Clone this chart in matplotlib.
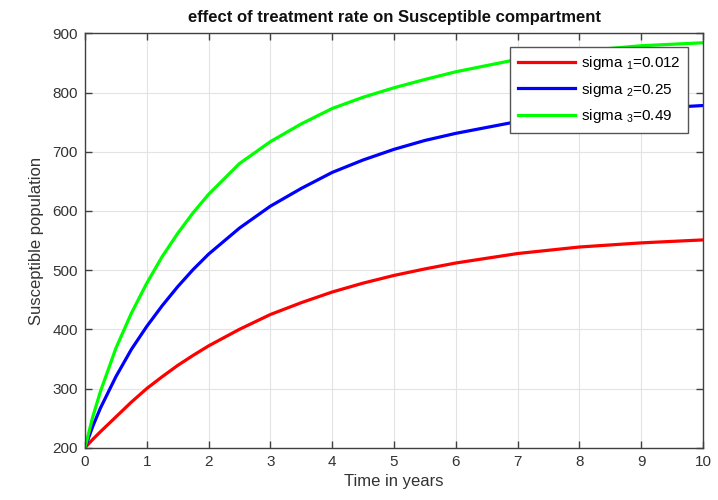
import matplotlib
matplotlib.use("Agg")
import matplotlib.pyplot as plt

# values
t_years = [0, 0.125, 0.25, 0.5, 0.75, 1, 1.25, 1.5, 1.75, 2, 2.5, 3, 3.5, 4, 4.5,
           5, 5.5, 6, 7, 8, 9, 10]
s_sigma1 = [200, 214, 227, 252, 277, 300, 320, 339, 356, 372, 400, 425, 445, 463, 478,
            491, 502, 512, 528, 539, 546, 551]
s_sigma2 = [200, 236, 267, 320, 366, 405, 440, 472, 501, 527, 571, 608, 638, 665, 686,
            704, 719, 731, 751, 764, 772, 778]
s_sigma3 = [200, 252, 295, 368, 427, 478, 523, 562, 597, 628, 680, 717, 747, 773, 792,
            808, 822, 835, 856, 870, 879, 884]
labels = ["sigma $_1$=0.012", "sigma $_2$=0.25", "sigma $_3$=0.49"]
colors = ["#ff0000", "#0000ff", "#00ff00"]

plt.rcParams["font.family"] = ["Liberation Sans", "DejaVu Sans"]
plt.rcParams["mathtext.fontset"] = "custom"
plt.rcParams["mathtext.rm"] = "Liberation Sans"
plt.rcParams["mathtext.default"] = "regular"

axcol = "#404040"

fig = plt.figure(figsize=(7.18, 5.0), dpi=100)
ax = fig.add_axes([85 / 718, 52.3 / 500, 618 / 718, 414.4 / 500])

for s, lab, c in zip([s_sigma1, s_sigma2, s_sigma3], labels, colors):
    ax.plot(t_years, s, color=c, lw=2.3, label=lab, solid_joinstyle="round")

ax.set_xlim(0, 10)
ax.set_ylim(200, 900)
ax.set_xticks(range(0, 11))
ax.set_yticks(range(200, 901, 100))
ax.grid(True, color="#e3e3e3", lw=0.8)
ax.set_axisbelow(True)

for sp in ax.spines.values():
    sp.set_color(axcol)
    sp.set_linewidth(1.0)
ax.tick_params(direction="in", length=5, width=1.0, colors=axcol,
               labelsize=11, top=True, right=True, pad=5)
for lab in ax.get_xticklabels() + ax.get_yticklabels():
    lab.set_color("#333333")

ax.set_title("effect of treatment rate on Susceptible compartment",
             fontsize=12, fontweight="bold", color="#111111", pad=8)
ax.set_xlabel("Time in years", fontsize=12, color="#333333", labelpad=4)
ax.set_ylabel("Susceptible population", fontsize=12, color="#333333", labelpad=6)

leg = ax.legend(loc="upper right", bbox_to_anchor=(603 / 618, 1 - 13.5 / 414.4),
                fontsize=11, frameon=True, fancybox=False, framealpha=1,
                edgecolor="#555555", handlelength=3.7, handletextpad=0.4,
                borderpad=0.5, labelspacing=0.55, borderaxespad=0)
leg.get_frame().set_linewidth(1.0)

fig.savefig("out.png", dpi=100)
plt.close(fig)
